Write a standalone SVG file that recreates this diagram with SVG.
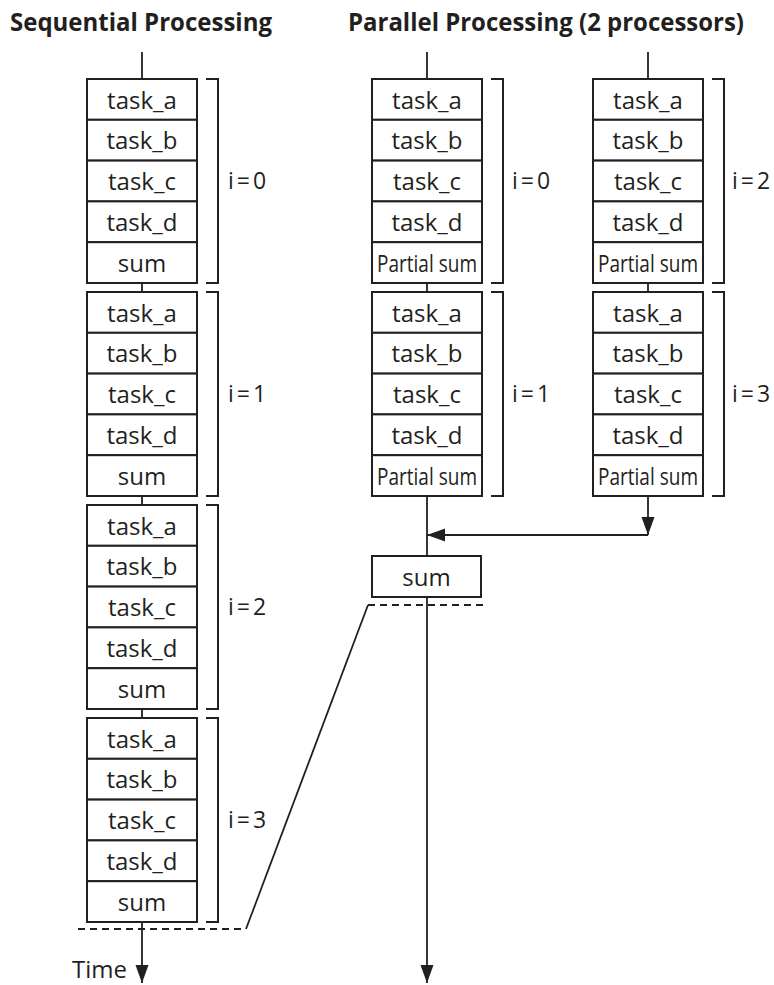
<svg xmlns="http://www.w3.org/2000/svg" width="774" height="985" viewBox="0 0 774 985">
  <style>
    .box { fill: #ffffff; stroke: #231f20; stroke-width: 2; }
    .lbl { font-family: "Open Sans", "Liberation Sans", sans-serif; font-size: 24px; fill: #231f20; text-anchor: middle; }
    .idx { font-family: "Open Sans", "Liberation Sans", sans-serif; font-size: 23px; word-spacing: -3px; fill: #231f20; }
    .time { font-family: "Open Sans", "Liberation Sans", sans-serif; font-size: 24px; fill: #231f20; }
    .title { font-family: "Open Sans", "Liberation Sans", sans-serif; font-size: 25px; font-weight: bold; fill: #231f20; }
    .brk { fill: none; stroke: #231f20; stroke-width: 2; }
    .wire { fill: none; stroke: #231f20; stroke-width: 1.8; }
    .dash { fill: none; stroke: #231f20; stroke-width: 1.8; stroke-dasharray: 7 5; }
  </style>
  <defs>
    <marker id="arrow" markerUnits="userSpaceOnUse" markerWidth="20" markerHeight="14" refX="18" refY="6.5" orient="auto">
      <path d="M0,0 L18,6.5 L0,13 Z" fill="#231f20"/>
    </marker>
    <!-- one iteration of the loop body: four tasks, bracket; last row label added per use -->
    <g id="rows-seq">
      <rect class="box" x="0" y="0" width="110" height="40.8"/>
      <rect class="box" x="0" y="40.8" width="110" height="40.8"/>
      <rect class="box" x="0" y="81.6" width="110" height="40.8"/>
      <rect class="box" x="0" y="122.4" width="110" height="40.8"/>
      <rect class="box" x="0" y="163.2" width="110" height="40.8"/>
      <text class="lbl" x="55" y="29.5">task_a</text>
      <text class="lbl" x="55" y="70.3">task_b</text>
      <text class="lbl" x="55" y="111.1">task_c</text>
      <text class="lbl" x="55" y="151.9">task_d</text>
      <path class="brk" d="M119,0 H131 V204 H119"/>
    </g>
  </defs>

  <text class="title" x="10" y="31" textLength="262" lengthAdjust="spacingAndGlyphs">Sequential Processing</text>
  <text class="title" x="348" y="31" textLength="396" lengthAdjust="spacingAndGlyphs">Parallel Processing (2 processors)</text>

  <!-- connectors -->
  <g id="connectors">
    <path class="wire" d="M142,52 V79 M142,283 V292 M142,496 V505 M142,709 V718"/>
    <path class="wire" d="M142,922 V983" marker-end="url(#arrow)"/>
    <path class="wire" d="M427,52 V79 M427,283 V292 M427,496 V556"/>
    <path class="wire" d="M427,597 V983" marker-end="url(#arrow)"/>
    <path class="wire" d="M648,52 V79 M648,283 V292"/>
    <path class="wire" d="M648,496 V535" marker-end="url(#arrow)"/>
    <path class="wire" d="M648,535 H427" marker-end="url(#arrow)"/>
    <path class="dash" d="M368,605 H484"/>
    <path class="dash" d="M78,929 H246"/>
    <path class="wire" d="M368,605 L246,929"/>
  </g>

  <!-- sequential iterations -->
  <g id="seq-i0" transform="translate(87,79)">
    <use href="#rows-seq"/>
    <text class="lbl" x="55" y="192.7">sum</text>
    <text class="idx" x="141" y="110">i = 0</text>
  </g>
  <g id="seq-i1" transform="translate(87,292)">
    <use href="#rows-seq"/>
    <text class="lbl" x="55" y="192.7">sum</text>
    <text class="idx" x="141" y="110">i = 1</text>
  </g>
  <g id="seq-i2" transform="translate(87,505)">
    <use href="#rows-seq"/>
    <text class="lbl" x="55" y="192.7">sum</text>
    <text class="idx" x="141" y="110">i = 2</text>
  </g>
  <g id="seq-i3" transform="translate(87,718)">
    <use href="#rows-seq"/>
    <text class="lbl" x="55" y="192.7">sum</text>
    <text class="idx" x="141" y="110">i = 3</text>
  </g>

  <!-- processor 1 -->
  <g id="p1-i0" transform="translate(372,79)">
    <use href="#rows-seq"/>
    <text class="lbl" x="55" y="192.7" textLength="100" lengthAdjust="spacingAndGlyphs">Partial sum</text>
    <text class="idx" x="140" y="110">i = 0</text>
  </g>
  <g id="p1-i1" transform="translate(372,292)">
    <use href="#rows-seq"/>
    <text class="lbl" x="55" y="192.7" textLength="100" lengthAdjust="spacingAndGlyphs">Partial sum</text>
    <text class="idx" x="140" y="110">i = 1</text>
  </g>

  <!-- processor 2 -->
  <g id="p2-i2" transform="translate(593,79)">
    <use href="#rows-seq"/>
    <text class="lbl" x="55" y="192.7" textLength="100" lengthAdjust="spacingAndGlyphs">Partial sum</text>
    <text class="idx" x="139" y="110">i = 2</text>
  </g>
  <g id="p2-i3" transform="translate(593,292)">
    <use href="#rows-seq"/>
    <text class="lbl" x="55" y="192.7" textLength="100" lengthAdjust="spacingAndGlyphs">Partial sum</text>
    <text class="idx" x="139" y="110">i = 3</text>
  </g>

  <!-- final reduction -->
  <g id="final-sum">
    <rect class="box" x="372" y="556" width="109" height="41"/>
    <text class="lbl" x="426.5" y="585.5">sum</text>
  </g>

  <text class="time" x="72" y="978">Time</text>
</svg>
